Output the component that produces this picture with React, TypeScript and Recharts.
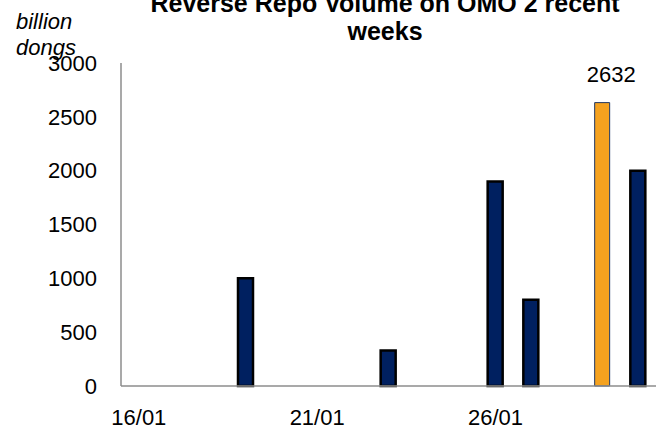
import React from "react";
import { BarChart, Bar, XAxis, YAxis, Cell, LabelList } from "recharts";

const dates = [
  "16/01", "17/01", "18/01", "19/01", "20/01", "21/01", "22/01", "23/01",
  "24/01", "25/01", "26/01", "27/01", "28/01", "29/01", "30/01",
];
const volumes = [null, null, null, 1000, null, null, null, 330, null, null, 1900, 800, null, 2632, 2000];
const yTicks = [0, 500, 1000, 1500, 2000, 2500, 3000];
const xTickLabels = ["16/01", "21/01", "26/01"];
const highlightDate = "29/01";

const data = dates.map((d, i) => ({ date: d, value: volumes[i] }));
const highlightValue = volumes[dates.indexOf(highlightDate)];

const fontFamily = "'Liberation Sans', Arial, sans-serif";
const axisColor = "#8c8c8c";
const navy = "#002060";
const orange = "#F5A21F";

const HighlightLabel = (props: any) => {
  const { x, y, width, value } = props;
  if (Number(value) !== highlightValue) return null;
  return (
    <text
      x={Number(x) + Number(width) / 2 + 9}
      y={Number(y) - 21}
      textAnchor="middle"
      fontSize={22}
      fontFamily={fontFamily}
      fill="#000"
    >
      {value}
    </text>
  );
};

export default function App() {
  return (
    <div style={{ position: "absolute", left: 0, top: 0, width: 658, height: 430, background: "#fff", fontFamily }}>
      <div
        style={{
          position: "absolute",
          left: 85,
          width: 600,
          top: -11,
          textAlign: "center",
          fontWeight: 700,
          fontSize: 25,
          lineHeight: "28px",
          whiteSpace: "nowrap",
        }}
      >
        Reverse Repo Volume on OMO 2 recent
        <br />
        weeks
      </div>
      <div
        style={{
          position: "absolute",
          left: 16,
          top: 9,
          fontStyle: "italic",
          fontSize: 22,
          lineHeight: "26px",
        }}
      >
        billion
        <br />
        dongs
      </div>
      <BarChart
        width={658}
        height={430}
        data={data}
        margin={{ top: 63, right: 2, bottom: 0, left: 0 }}
        barSize={15}
      >
        <XAxis
          dataKey="date"
          interval={0}
          tickFormatter={(v: string) => (xTickLabels.includes(v) ? v : "")}
          tickLine={false}
          tickSize={0}
          tickMargin={23}
          height={44}
          axisLine={{ stroke: axisColor, strokeWidth: 1.5 }}
          tick={{ fill: "#000", fontSize: 22, fontFamily }}
        />
        <YAxis
          domain={[0, 3000]}
          ticks={yTicks}
          width={121}
          tickLine={false}
          tickSize={0}
          tickMargin={24}
          axisLine={{ stroke: axisColor, strokeWidth: 1.5 }}
          tick={{ fill: "#000", fontSize: 22, fontFamily }}
        />
        <Bar dataKey="value" isAnimationActive={false}>
          {data.map((d) => (
            <Cell
              key={d.date}
              fill={d.date === highlightDate ? orange : navy}
              stroke={d.date === highlightDate ? "#1F3864" : "#000"}
              strokeWidth={d.date === highlightDate ? 1 : 2.5}
            />
          ))}
          <LabelList dataKey="value" content={HighlightLabel} />
        </Bar>
      </BarChart>
    </div>
  );
}
